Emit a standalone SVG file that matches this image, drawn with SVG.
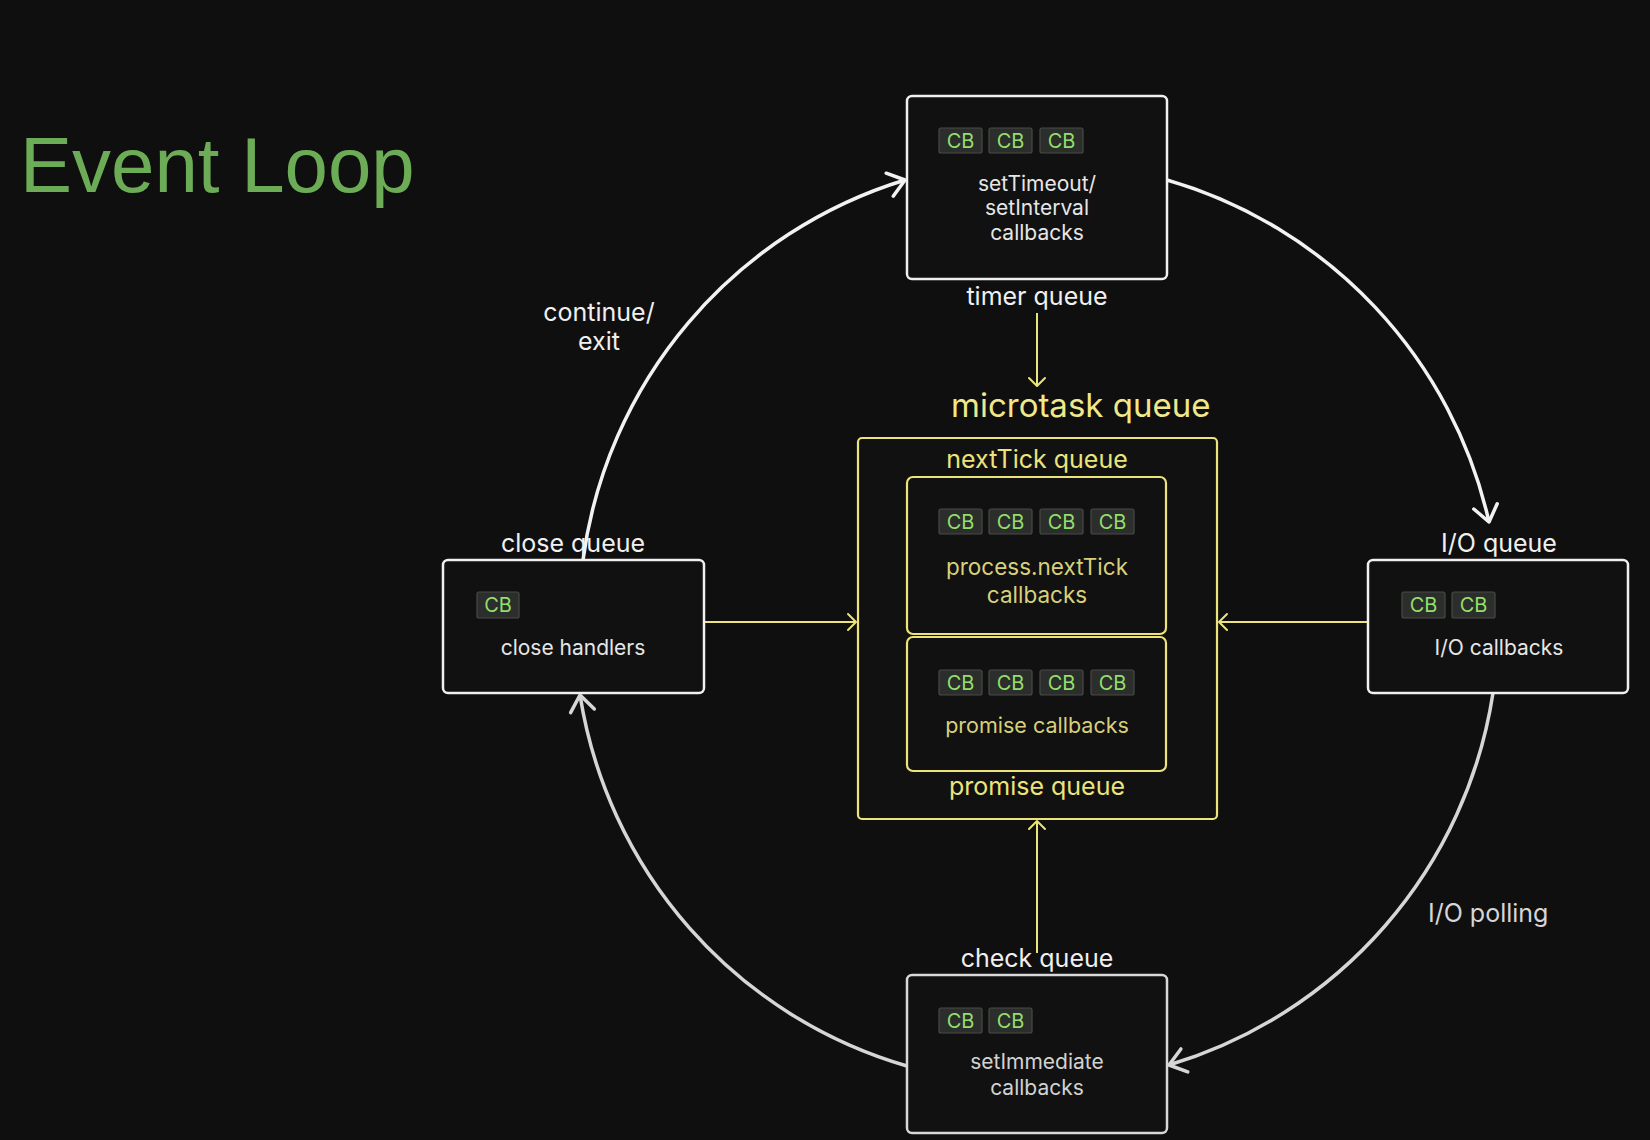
<svg xmlns="http://www.w3.org/2000/svg" width="1650" height="1140" viewBox="0 0 1650 1140">
<defs>
<marker id="wArrow" markerUnits="userSpaceOnUse" markerWidth="40" markerHeight="40" viewBox="-20 -20 40 40" refX="0" refY="0" orient="auto">
<path d="M-16,-12 L0,0 L-16,12" fill="none" stroke="#f2f2f2" stroke-width="3.5" stroke-linecap="round" stroke-linejoin="round"/>
</marker>
<marker id="gArrow" markerUnits="userSpaceOnUse" markerWidth="40" markerHeight="40" viewBox="-20 -20 40 40" refX="0" refY="0" orient="auto">
<path d="M-16,-12 L0,0 L-16,12" fill="none" stroke="#d6d6d6" stroke-width="3.5" stroke-linecap="round" stroke-linejoin="round"/>
</marker>
<marker id="yArrow" markerUnits="userSpaceOnUse" markerWidth="24" markerHeight="24" viewBox="-12 -12 24 24" refX="0" refY="0" orient="auto">
<path d="M-8,-8 L0,0 L-8,8" fill="none" stroke="#ece47a" stroke-width="2" stroke-linecap="round" stroke-linejoin="round"/>
</marker>
</defs>
<style>
.box{fill:#111111;stroke:#f0f0f0;stroke-width:2.5}
.ybox{fill:#111111;stroke:#ece47a;stroke-width:2.2}
.cb{fill:#2b2e2b;stroke:#484a48;stroke-width:1.2}
.cbt{font-family:Inter,"Liberation Sans",sans-serif;font-size:20px;fill:#93de6c;text-anchor:middle}
.nt{font-family:Inter,"Liberation Sans",sans-serif;font-size:21px;fill:#e6e6e6;text-anchor:middle}
.lbl{font-family:Inter,"Liberation Sans",sans-serif;font-size:25px;fill:#f0f0f0;text-anchor:middle}
.ylbl{font-family:Inter,"Liberation Sans",sans-serif;font-size:25px;fill:#ece47a;text-anchor:middle}
.ynt{font-family:Inter,"Liberation Sans",sans-serif;font-size:22px;fill:#d8d07a;text-anchor:middle}
.circ{fill:none;stroke:#f2f2f2;stroke-width:3.5}
.circg{fill:none;stroke:#d6d6d6;stroke-width:3.5}
.yl{fill:none;stroke:#ece47a;stroke-width:2}
</style>
<rect x="0" y="0" width="1650" height="1140" fill="#0f0f0f"/>
<text x="20" y="192" font-family="'Liberation Sans',Arial,sans-serif" font-size="78" fill="#6dac56">Event Loop</text>

<g id="connectors">
<path class="circ" d="M1167,180 A461,461 0 0 1 1489,522" marker-end="url(#wArrow)"/>
<path class="circg" d="M1493,693 A461,461 0 0 1 1169,1065" marker-end="url(#gArrow)"/>
<path class="circg" d="M907,1066 A461,461 0 0 1 580,695" marker-end="url(#gArrow)"/>
<path class="circ" d="M583,560 A461,461 0 0 1 905,180" marker-end="url(#wArrow)"/>
<line class="yl" x1="1037" y1="313" x2="1037" y2="386" marker-end="url(#yArrow)"/>
<line class="yl" x1="704" y1="622" x2="856" y2="622" marker-end="url(#yArrow)"/>
<line class="yl" x1="1368" y1="622" x2="1219" y2="622" marker-end="url(#yArrow)"/>
<line class="yl" x1="1037" y1="953" x2="1037" y2="821" marker-end="url(#yArrow)"/>
</g>

<text class="lbl" x="599" y="321">continue/</text>
<text class="lbl" x="599" y="350">exit</text>
<text x="1428" y="922" font-family="Inter,'Liberation Sans',sans-serif" font-size="25" fill="#d6d6d6">I/O polling</text>

<g id="timer-queue">
<rect class="box" x="907" y="96" width="260" height="183" rx="5"/>
<rect class="cb" x="939" y="128" width="43" height="25" rx="2"/>
<rect class="cb" x="989" y="128" width="43" height="25" rx="2"/>
<rect class="cb" x="1040" y="128" width="43" height="25" rx="2"/>
<text class="cbt" x="960.5" y="148">CB</text>
<text class="cbt" x="1010.5" y="148">CB</text>
<text class="cbt" x="1061.5" y="148">CB</text>
<text class="nt" x="1037" y="191">setTimeout/</text>
<text class="nt" x="1037" y="215">setInterval</text>
<text class="nt" x="1037" y="240">callbacks</text>
<text class="lbl" x="1037" y="305">timer queue</text>
</g>

<g id="microtask-queue">
<text x="951" y="417" font-family="Inter,'Liberation Sans',sans-serif" font-size="33" fill="#f0e88a">microtask queue</text>
<rect class="ybox" x="858" y="438" width="359" height="381" rx="4"/>
<text class="ylbl" x="1037" y="468">nextTick queue</text>
<g id="nexttick-queue">
<rect class="ybox" x="907" y="477" width="259" height="157" rx="6"/>
<rect class="cb" x="939" y="509" width="43" height="25" rx="2"/>
<rect class="cb" x="989" y="509" width="43" height="25" rx="2"/>
<rect class="cb" x="1040" y="509" width="43" height="25" rx="2"/>
<rect class="cb" x="1091" y="509" width="43" height="25" rx="2"/>
<text class="cbt" x="960.5" y="529">CB</text>
<text class="cbt" x="1010.5" y="529">CB</text>
<text class="cbt" x="1061.5" y="529">CB</text>
<text class="cbt" x="1112.5" y="529">CB</text>
<text class="ynt" x="1037" y="575" style="font-size:22.5px">process.nextTick</text>
<text class="ynt" x="1037" y="603" style="font-size:22.5px">callbacks</text>
</g>
<g id="promise-queue">
<rect class="ybox" x="907" y="637" width="259" height="134" rx="6"/>
<rect class="cb" x="939" y="670" width="43" height="25" rx="2"/>
<rect class="cb" x="989" y="670" width="43" height="25" rx="2"/>
<rect class="cb" x="1040" y="670" width="43" height="25" rx="2"/>
<rect class="cb" x="1091" y="670" width="43" height="25" rx="2"/>
<text class="cbt" x="960.5" y="690">CB</text>
<text class="cbt" x="1010.5" y="690">CB</text>
<text class="cbt" x="1061.5" y="690">CB</text>
<text class="cbt" x="1112.5" y="690">CB</text>
<text class="ynt" x="1037" y="733" style="font-size:21.5px">promise callbacks</text>
</g>
<text class="ylbl" x="1037" y="795">promise queue</text>
</g>

<g id="close-queue">
<text class="lbl" x="573" y="552">close queue</text>
<rect class="box" x="443" y="560" width="261" height="133" rx="5"/>
<rect class="cb" x="477" y="592" width="42" height="26" rx="2"/>
<text class="cbt" x="498" y="612">CB</text>
<text class="nt" x="573" y="655">close handlers</text>
</g>

<g id="io-queue">
<text class="lbl" x="1499" y="552">I/O queue</text>
<rect class="box" x="1368" y="560" width="260" height="133" rx="5"/>
<rect class="cb" x="1402" y="592" width="43" height="26" rx="2"/>
<rect class="cb" x="1452" y="592" width="43" height="26" rx="2"/>
<text class="cbt" x="1423.5" y="612">CB</text>
<text class="cbt" x="1473.5" y="612">CB</text>
<text class="nt" x="1499" y="655">I/O callbacks</text>
</g>

<g id="check-queue">
<text class="lbl" x="1037" y="967">check queue</text>
<rect class="box" x="907" y="975" width="260" height="158" rx="5" style="stroke:#d8d8d8"/>
<rect class="cb" x="939" y="1008" width="43" height="25" rx="2"/>
<rect class="cb" x="989" y="1008" width="43" height="25" rx="2"/>
<text class="cbt" x="960.5" y="1028">CB</text>
<text class="cbt" x="1010.5" y="1028">CB</text>
<text class="nt" x="1037" y="1069" style="fill:#d2d2d2">setImmediate</text>
<text class="nt" x="1037" y="1095" style="fill:#d2d2d2">callbacks</text>
</g>
</svg>
